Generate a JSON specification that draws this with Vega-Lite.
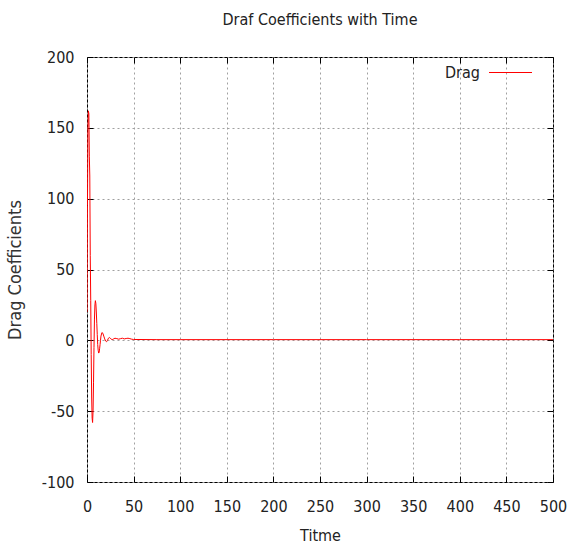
{
  "$schema": "https://vega.github.io/schema/vega-lite/v6.json",
  "width": 466,
  "height": 425,
  "autosize": "none",
  "padding": {"left": 87, "top": 57, "right": 14, "bottom": 63},
  "background": "white",
  "title": {
    "text": "Draf Coefficients with Time",
    "font": "DejaVu Sans Condensed",
    "fontSize": 16,
    "fontWeight": "normal",
    "color": "#222222",
    "offset": 21,
    "anchor": "middle"
  },
  "config": {
    "view": {"stroke": "black", "strokeWidth": 1},
    "axis": {
      "labelFont": "DejaVu Sans Condensed",
      "labelFontSize": 16,
      "labelColor": "#222222",
      "labelExpr": "'' + datum.value",
      "labelFlush": false,
      "labelOverlap": false,
      "labelBound": false,
      "titleFont": "DejaVu Sans Condensed",
      "titleFontSize": 16,
      "titleFontWeight": "normal",
      "titleColor": "#222222",
      "domain": false,
      "tickColor": "black",
      "tickSize": -6,
      "gridColor": "#a0a0a0",
      "gridDash": [2, 3],
      "gridWidth": 1
    }
  },
  "data": {
    "values": [
      {"t": 0, "cd": 20, "series": "Drag"},
      {"t": 0.5, "cd": 95, "series": "Drag"},
      {"t": 1, "cd": 150, "series": "Drag"},
      {"t": 1.5, "cd": 162, "series": "Drag"},
      {"t": 2, "cd": 160, "series": "Drag"},
      {"t": 2.5, "cd": 130, "series": "Drag"},
      {"t": 3, "cd": 116, "series": "Drag"},
      {"t": 3.5, "cd": 60, "series": "Drag"},
      {"t": 4, "cd": 28, "series": "Drag"},
      {"t": 4.5, "cd": -10, "series": "Drag"},
      {"t": 5, "cd": -40, "series": "Drag"},
      {"t": 5.5, "cd": -55, "series": "Drag"},
      {"t": 6, "cd": -58, "series": "Drag"},
      {"t": 6.5, "cd": -50, "series": "Drag"},
      {"t": 7, "cd": -30, "series": "Drag"},
      {"t": 7.5, "cd": -5, "series": "Drag"},
      {"t": 8, "cd": 15, "series": "Drag"},
      {"t": 8.5, "cd": 25, "series": "Drag"},
      {"t": 9, "cd": 28, "series": "Drag"},
      {"t": 9.5, "cd": 26, "series": "Drag"},
      {"t": 10, "cd": 20, "series": "Drag"},
      {"t": 10.5, "cd": 12, "series": "Drag"},
      {"t": 11, "cd": 4, "series": "Drag"},
      {"t": 11.5, "cd": -3, "series": "Drag"},
      {"t": 12, "cd": -7, "series": "Drag"},
      {"t": 12.5, "cd": -9, "series": "Drag"},
      {"t": 13, "cd": -8.5, "series": "Drag"},
      {"t": 13.5, "cd": -6, "series": "Drag"},
      {"t": 14, "cd": -3, "series": "Drag"},
      {"t": 14.5, "cd": 0, "series": "Drag"},
      {"t": 15, "cd": 3, "series": "Drag"},
      {"t": 16, "cd": 5.5, "series": "Drag"},
      {"t": 17, "cd": 5, "series": "Drag"},
      {"t": 18, "cd": 3, "series": "Drag"},
      {"t": 19, "cd": 1, "series": "Drag"},
      {"t": 20, "cd": -0.5, "series": "Drag"},
      {"t": 21, "cd": -1, "series": "Drag"},
      {"t": 22, "cd": 0, "series": "Drag"},
      {"t": 23, "cd": 1.5, "series": "Drag"},
      {"t": 24, "cd": 2, "series": "Drag"},
      {"t": 25, "cd": 1.5, "series": "Drag"},
      {"t": 26, "cd": 0.8, "series": "Drag"},
      {"t": 27, "cd": 0.5, "series": "Drag"},
      {"t": 28, "cd": 0.8, "series": "Drag"},
      {"t": 30, "cd": 1.5, "series": "Drag"},
      {"t": 32, "cd": 1.2, "series": "Drag"},
      {"t": 34, "cd": 0.8, "series": "Drag"},
      {"t": 36, "cd": 1.2, "series": "Drag"},
      {"t": 38, "cd": 1.5, "series": "Drag"},
      {"t": 40, "cd": 1.0, "series": "Drag"},
      {"t": 42, "cd": 1.3, "series": "Drag"},
      {"t": 44, "cd": 1.5, "series": "Drag"},
      {"t": 46, "cd": 1.2, "series": "Drag"},
      {"t": 48, "cd": 0.8, "series": "Drag"},
      {"t": 50, "cd": 0.6, "series": "Drag"},
      {"t": 75, "cd": 0.5, "series": "Drag"},
      {"t": 100, "cd": 0.5, "series": "Drag"},
      {"t": 200, "cd": 0.5, "series": "Drag"},
      {"t": 300, "cd": 0.5, "series": "Drag"},
      {"t": 400, "cd": 0.5, "series": "Drag"},
      {"t": 500, "cd": 0.5, "series": "Drag"}
    ]
  },
  "layer": [
    {
      "mark": {"type": "line", "strokeWidth": 1, "clip": true},
      "encoding": {
        "x": {
          "field": "t",
          "type": "quantitative",
          "scale": {"domain": [0, 500], "nice": false},
          "axis": {"title": "Titme", "values": [0, 50, 100, 150, 200, 250, 300, 350, 400, 450, 500], "labelPadding": 22, "titlePadding": 13, "grid": true}
        },
        "y": {
          "field": "cd",
          "type": "quantitative",
          "scale": {"domain": [-100, 200], "nice": false},
          "axis": {"title": "Drag Coefficients", "titleFontSize": 18, "titleColor": "#333333", "values": [-100, -50, 0, 50, 100, 150, 200], "labelPadding": 19, "titlePadding": 17, "grid": true}
        },
        "color": {
          "field": "series",
          "type": "nominal",
          "scale": {"domain": ["Drag"], "range": ["#ff0000"]},
          "legend": {
            "title": null,
            "orient": "none",
            "legendX": 401,
            "legendY": -7,
            "symbolType": "stroke",
            "symbolSize": 1849,
            "symbolStrokeWidth": 1.2,
            "symbolStrokeColor": "#ff0000",
            "labelAlign": "right",
            "labelOffset": -53,
            "labelFont": "DejaVu Sans Condensed",
            "labelFontSize": 16,
            "labelColor": "#222222"
          }
        }
      }
    },
    {
      "mark": {"type": "line", "opacity": 0},
      "encoding": {
        "x": {
          "field": "t",
          "type": "quantitative",
          "axis": {"orient": "top", "title": null, "labels": false, "grid": false, "values": [0, 50, 100, 150, 200, 250, 300, 350, 400, 450, 500]}
        },
        "y": {
          "field": "cd",
          "type": "quantitative",
          "axis": {"orient": "right", "title": null, "labels": false, "grid": false, "values": [-100, -50, 0, 50, 100, 150, 200]}
        }
      }
    }
  ],
  "resolve": {"axis": {"x": "independent", "y": "independent"}}
}
